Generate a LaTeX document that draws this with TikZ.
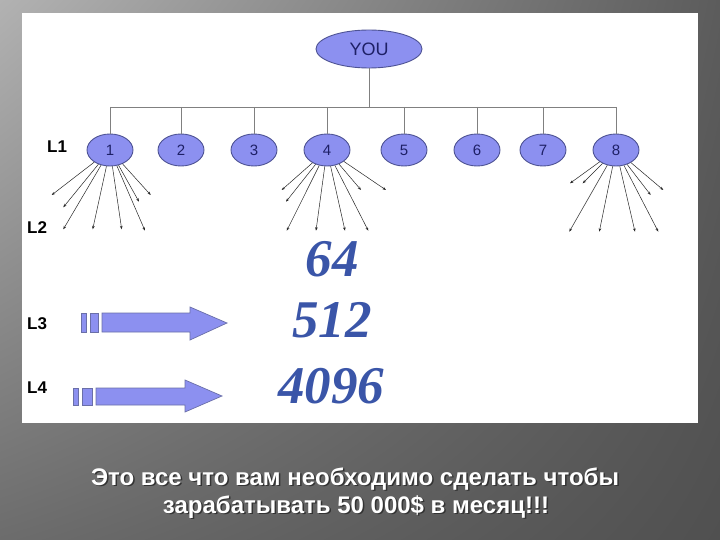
\documentclass[tikz,border=0pt]{standalone}
\usepackage{fontspec}
\setmainfont{Liberation Sans}
\newfontfamily\numfont{Liberation Serif}
\usetikzlibrary{arrows.meta,shapes.geometric,shadings}

\definecolor{nodefill}{HTML}{8C90F0}
\definecolor{nodeedge}{HTML}{4E5394}
\definecolor{nodetext}{HTML}{1E2066}
\definecolor{numblue}{HTML}{3A55A8}
\definecolor{linegray}{HTML}{808080}
\definecolor{arrowedge}{HTML}{6A6FA8}
\definecolor{bgA}{HTML}{B2B2B2}
\definecolor{bgB}{HTML}{5C5C5C}
\definecolor{bgC}{HTML}{6C6C6C}
\definecolor{bgD}{HTML}{505050}

\begin{document}
\begin{tikzpicture}[x=1pt,y=-1pt,
  member/.style={ellipse, draw=nodeedge, fill=nodefill, line width=0.9pt,
    minimum width=46pt, minimum height=32pt, inner sep=0pt, text=nodetext,
    font=\fontsize{15}{15}\selectfont},
  topnode/.style={member, minimum width=106pt, minimum height=38pt,
    font=\fontsize{18}{18}\selectfont},
  tree/.style={draw=linegray, line width=0.9pt},
  fan/.style={draw=black!85, line width=0.5pt, -{Stealth[length=3.5pt,width=2.6pt]}},
  level/.style={font=\fontsize{17}{17}\selectfont\bfseries, anchor=west, inner sep=0pt},
  bignum/.style={font=\numfont\fontsize{53}{53}\selectfont\bfseries\itshape,
    text=numblue, inner sep=0pt},
  bigarrow/.style={fill=nodefill, draw=arrowedge, line width=0.7pt, line join=miter},
  capshadow/.style={text=black!80, font=\fontsize{24}{24}\selectfont\bfseries, anchor=base, inner sep=0pt},
  captext/.style={text=white, font=\fontsize{24}{24}\selectfont\bfseries, anchor=base, inner sep=0pt}
]
\useasboundingbox (0,0) rectangle (720,540);
% background
\shade[upper left=bgA, upper right=bgB, lower left=bgC, lower right=bgD] (0,0) rectangle (720,540);
\fill[white] (22,13) rectangle (698,423);

% tree
\node[topnode] (you) at (369,49) {YOU};
\foreach \i/\x in {1/110,2/181,3/254,4/327,5/404,6/477,7/543,8/616}
  \node[member] (n\i) at (\x,150) {\i};
\coordinate (bar) at (369,107);
\draw[tree] (you) -- (bar);
\draw[tree] (n1 |- bar) -- (n8 |- bar);
\foreach \i in {1,...,8}
  \draw[tree] (n\i |- bar) -- (n\i);

% fans
\foreach \p in {(51.7,195),(63.3,207.3),(63.3,229.3),(92.7,229.3),(121.7,229.3),(145,230.7),(139,201.7),(150.7,195)}
  \draw[fan] (n1) -- \p;
\foreach \p in {(281.7,190),(286,201.7),(286.7,230.7),(316,230.7),(345,230.7),(368.3,230.7),(361,190),(386,190)}
  \draw[fan] (n4) -- \p;
\foreach \p in {(570,183.3),(582.7,183.3),(569.3,231.7),(599.3,231.7),(635,231.7),(658.3,231.7),(650.7,195),(663.3,190)}
  \draw[fan] (n8) -- \p;

% level labels
\node[level] (l1) at (47,147) {L1};
\node[level] (l2) at (27,228) {L2};
\node[level] (l3) at (27,324) {L3};
\node[level] (l4) at (27,388) {L4};

% big arrows
\draw[bigarrow] (81,313) rectangle (86,332);
\draw[bigarrow] (90,313) rectangle (98,332);
\draw[bigarrow] (102,313) -- (190,313) -- (190,307) -- (227,323) -- (190,340) -- (190,332) -- (102,332) -- cycle;
\draw[bigarrow] (73,388) rectangle (78,405);
\draw[bigarrow] (82,388) rectangle (92,405);
\draw[bigarrow] (96,388) -- (185,388) -- (185,380) -- (222,396) -- (185,412) -- (185,405) -- (96,405) -- cycle;

% numbers
\node[bignum] (v64) at (332,259) {64};
\node[bignum] (v512) at (332,320) {512};
\node[bignum] (v4096) at (331,386) {4096};

% caption
\node[capshadow] at (356.5,486.5) {Это все что вам необходимо сделать чтобы};
\node[captext] (c1) at (355,485) {Это все что вам необходимо сделать чтобы};
\node[capshadow] at (357.5,514.5) {зарабатывать 50 000\$ в месяц!!!};
\node[captext] (c2) at (356,513) {зарабатывать 50 000\$ в месяц!!!};
\end{tikzpicture}
\end{document}
